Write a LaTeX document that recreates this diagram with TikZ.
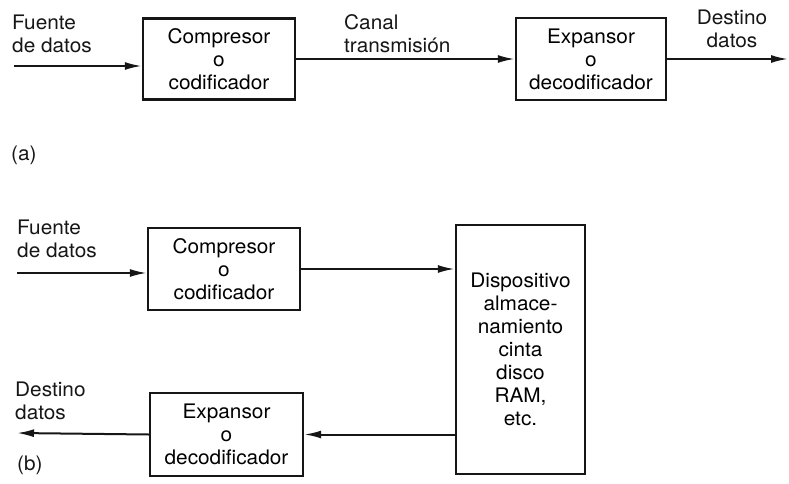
\documentclass[tikz,border=0pt]{standalone}
\usepackage{fontspec}
\setmainfont{TeX Gyre Heros}[FakeStretch=1.04]
\usepackage{tikz}
\usetikzlibrary{arrows.meta,calc,positioning}
\definecolor{ink}{HTML}{161616}
\tikzset{blockbox/.style={draw=ink,line width=2.4pt,fill=white,inner sep=2pt,align=center,font=\fontsize{20}{23}\selectfont},flowline/.style={draw=ink,line width=2pt,-{Latex[length=17pt,width=8pt]}},note/.style={font=\fontsize{20}{23}\selectfont,text=ink,inner sep=0pt}}

\begin{document}
\begin{tikzpicture}[x=1pt,y=1pt]
\useasboundingbox (0,0) rectangle (789,483);
% (a) transmision
\node[blockbox,minimum width=152pt,minimum height=81pt] (compA) at (219,424) {Compresor\\o\\codificador};
\node[blockbox,minimum width=150pt,minimum height=82pt] (expA) at (591,424) {Expansor\\o\\decodificador};
\coordinate (inA) at (14,417);
\coordinate (outA) at (788,424);
\draw[flowline] (inA) -- (inA -| compA.west);
\draw[flowline] (compA) -- (expA);
\draw[flowline] (expA.east) -- (outA);
\node[note,anchor=west,align=left] (srcA) at (12,449.5) {Fuente\\de datos};
\node[note,anchor=west,align=left] (chanA) at (344,449) {Canal\\transmisión};
\node[note,align=center] (dstA) at (732,454.5) {Destino\\datos};
\node[note,anchor=west] (labA) at (11,328) {(a)};
% (b) almacenamiento
\node[blockbox,minimum width=152pt,minimum height=82pt] (compB) at (224,214) {Compresor\\o\\codificador};
\node[blockbox,minimum width=129pt,minimum height=249pt] (storB) at (520.5,133.5) {Dispositivo\\almace-\\namiento\\cinta\\disco\\RAM,\\etc.};
\node[blockbox,minimum width=153pt,minimum height=83pt] (expB) at (226.5,48.5) {Expansor\\o\\decodificador};
\coordinate (inB) at (17,210);
\coordinate (outB) at (17,50);
\draw[flowline] (inB) -- (inB -| compB.west);
\draw[flowline] (compB) -- (compB -| storB.west);
\draw[flowline] (expB -| storB.west) -- (expB);
\draw[flowline] (expB.west) -- (outB);
\node[note,anchor=west,align=left] (srcB) at (17,244.5) {Fuente\\de datos};
\node[note,anchor=west,align=left] (dstB) at (15,82) {Destino\\datos};
\node[note,anchor=west] (labB) at (17,18) {(b)};
\end{tikzpicture}
\end{document}
